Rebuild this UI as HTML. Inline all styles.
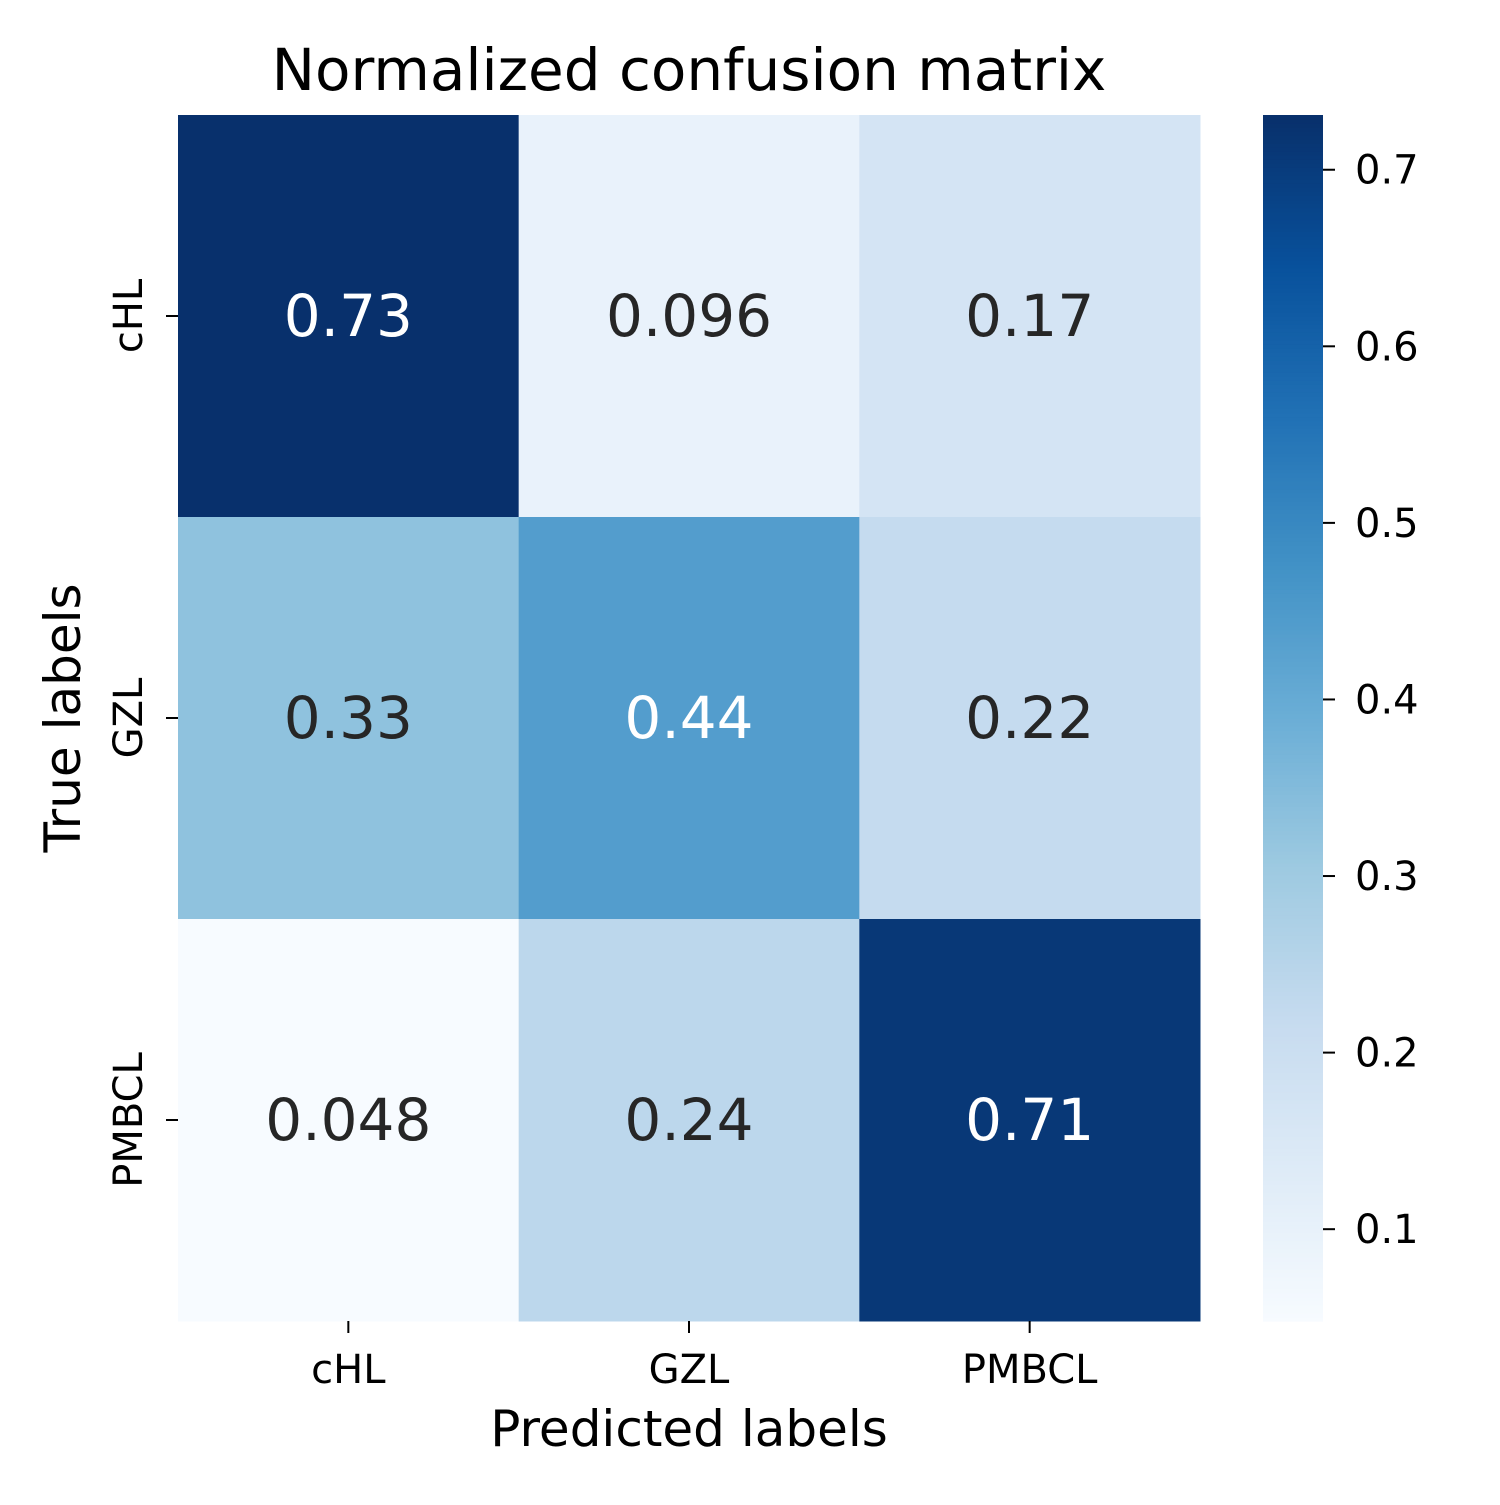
<!DOCTYPE html>
<html><head><meta charset="utf-8"><style>
html,body{margin:0;padding:0;background:#fff;}
svg text{font-family:"DejaVu Sans","Liberation Sans",sans-serif;}
</style></head><body>
<svg id="chart" width="1500" height="1500" viewBox="0 0 1500 1500" xmlns="http://www.w3.org/2000/svg">
<rect width="1500" height="1500" fill="#fff"/>
<text x="689" y="90" font-size="58" text-anchor="middle" fill="#000">Normalized confusion matrix</text>
<g id="cells"></g>
<g id="xaxis"></g>
<g id="yaxis"></g>
<text x="689" y="1446" font-size="50" text-anchor="middle" fill="#000">Predicted labels</text>
<text transform="translate(80,718) rotate(-90)" font-size="50" text-anchor="middle" fill="#000">True labels</text>
<g id="cbar"></g>
</svg>
<script>
const xCategories = ["cHL","GZL","PMBCL"];
const yCategories = ["cHL","GZL","PMBCL"];
const values = [
  [0.73, 0.096, 0.17],
  [0.33, 0.44, 0.22],
  [0.048, 0.24, 0.71]
];
const valueLabels = [
  ["0.73","0.096","0.17"],
  ["0.33","0.44","0.22"],
  ["0.048","0.24","0.71"]
];
const cbarTicks = [0.1,0.2,0.3,0.4,0.5,0.6,0.7];
const vmin = 0.048, vmax = 0.731;

const NS = "http://www.w3.org/2000/svg";
const X0=178, X1=1200, Y0=115, Y1=1321;
const cw=(X1-X0)/xCategories.length, ch=(Y1-Y0)/yCategories.length;
const xPos = i => X0 + i*cw;
const yPos = j => Y0 + j*ch;
const stops=["#f7fbff","#deebf7","#c6dbef","#9ecae1","#6baed6","#4292c6","#2171b5","#08519c","#08306b"].map(h=>[parseInt(h.slice(1,3),16),parseInt(h.slice(3,5),16),parseInt(h.slice(5,7),16)]);
function cmap(v){
  let t=Math.max(0,Math.min(1,(v-vmin)/(vmax-vmin)))*(stops.length-1);
  let i=Math.min(Math.floor(t),stops.length-2), f=t-i;
  const c=stops[i].map((a,k)=>Math.round(a+(stops[i+1][k]-a)*f));
  return `rgb(${c[0]},${c[1]},${c[2]})`;
}
function mk(tag,attrs,parent){const e=document.createElementNS(NS,tag);for(const k in attrs)e.setAttribute(k,attrs[k]);parent.appendChild(e);return e;}
const cells=document.getElementById('cells');
values.forEach((row,j)=>row.forEach((v,i)=>{
  const r=mk('rect',{x:xPos(i),y:yPos(j),width:cw+0.5,height:ch+0.5,fill:cmap(v)},cells);
  
  
  const t=mk('text',{x:xPos(i)+cw/2,y:yPos(j)+ch/2+20,'font-size':58,'text-anchor':'middle',fill:((v-vmin)/(vmax-vmin)>0.5)?'#fff':'#262626'},cells);
  t.textContent=valueLabels[j][i];
  
  
}));
const xa=document.getElementById('xaxis');
xCategories.forEach((c,i)=>{
  const cx=xPos(i)+cw/2;
  mk('line',{x1:cx,x2:cx,y1:Y1,y2:Y1+12,stroke:'#000','stroke-width':2},xa);
  const t=mk('text',{x:cx,y:Y1+62,'font-size':40,'text-anchor':'middle',fill:'#000'},xa);
  t.textContent=c;
  
  
});
const ya=document.getElementById('yaxis');
yCategories.forEach((c,j)=>{
  const cy=yPos(j)+ch/2;
  mk('line',{x1:X0-12,x2:X0,y1:cy,y2:cy,stroke:'#000','stroke-width':2},ya);
  const t=mk('text',{transform:`translate(${X0-36},${cy}) rotate(-90)`,'font-size':40,'text-anchor':'middle',fill:'#000'},ya);
  t.textContent=c;
  
  
});
const cb=document.getElementById('cbar');
const CX0=1263, CX1=1323;
const cbY = v => Y1 - (v-vmin)/(vmax-vmin)*(Y1-Y0);
for(let k=0;k<300;k++){
  const v0=vmin+(vmax-vmin)*k/300, v1=vmin+(vmax-vmin)*(k+1)/300;
  mk('rect',{x:CX0,y:cbY(v1),width:CX1-CX0,height:cbY(v0)-cbY(v1)+0.6,fill:cmap((v0+v1)/2)},cb);
}
cbarTicks.forEach(v=>{
  const y=cbY(v);
  mk('line',{x1:CX1,x2:CX1+12,y1:y,y2:y,stroke:'#000','stroke-width':2},cb);
  const t=mk('text',{x:CX1+32,y:y+14,'font-size':40,fill:'#000'},cb);
  t.textContent=v.toFixed(1);
  
  
});
</script>
</body></html>
